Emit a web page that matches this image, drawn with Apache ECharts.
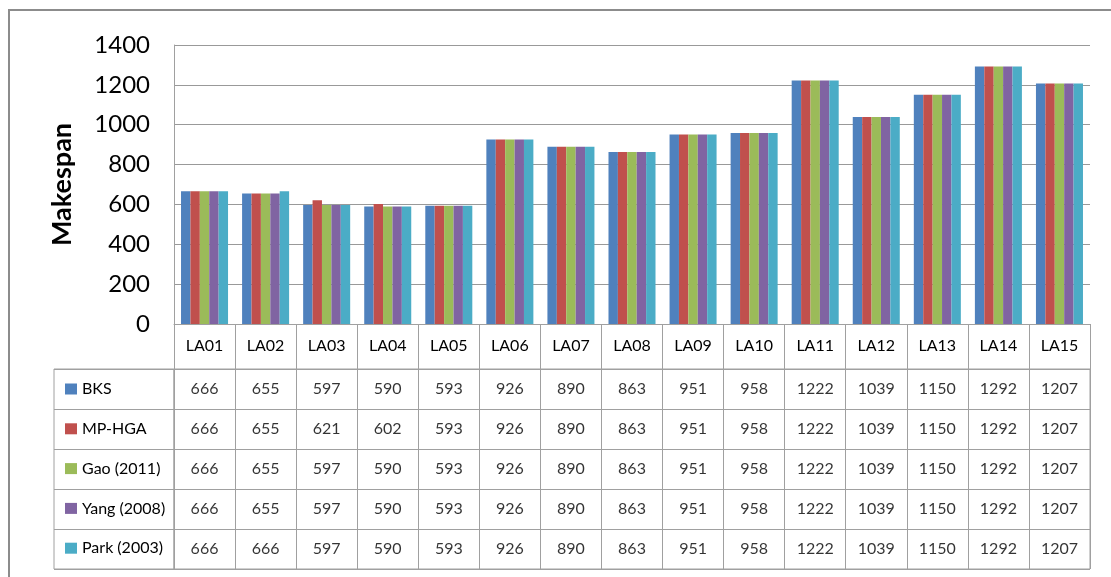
<!DOCTYPE html>
<html>
<head>
<meta charset="utf-8">
<title>Makespan comparison</title>
<script src="https://cdn.jsdelivr.net/npm/echarts@6/dist/echarts.min.js"></script>
<style>
  html, body { margin: 0; padding: 0; background: #fff; }
  #chart { width: 1111px; height: 577px; }
</style>
</head>
<body>
<div id="chart"></div>
<script>
// Benchmark instances
const instances = ['LA01','LA02','LA03','LA04','LA05','LA06','LA07','LA08','LA09','LA10','LA11','LA12','LA13','LA14','LA15'];

// Makespan per method
const bks     = [666, 655, 597, 590, 593, 926, 890, 863, 951, 958, 1222, 1039, 1150, 1292, 1207];
const mpHga   = [666, 655, 621, 602, 593, 926, 890, 863, 951, 958, 1222, 1039, 1150, 1292, 1207];
const gao2011 = [666, 655, 597, 590, 593, 926, 890, 863, 951, 958, 1222, 1039, 1150, 1292, 1207];
const yang2008 = [666, 655, 597, 590, 593, 926, 890, 863, 951, 958, 1222, 1039, 1150, 1292, 1207];
const park2003 = [666, 666, 597, 590, 593, 926, 890, 863, 951, 958, 1222, 1039, 1150, 1292, 1207];

const methodNames = ['BKS', 'MP-HGA', 'Gao (2011)', 'Yang (2008)', 'Park (2003)'];
const methodValues = [bks, mpHga, gao2011, yang2008, park2003];
const methodColors = ['#4F81BD', '#C0504D', '#9BBB59', '#8064A2', '#4BACC6'];

// Value axis ticks
const yMin = 0, yMax = 1400, yStep = 200;

const FONT = 'Lato, "Liberation Sans", sans-serif';
const LINE = '#a0a0a0';
const INK = '#000';

// Cells of the data table: [instance index, method index, value]
const tableCells = [];
methodValues.forEach((vals, r) => vals.forEach((v, c) => tableCells.push([c, r, v])));

const barSeries = methodNames.map((name, i) => ({
  name: name,
  type: 'bar',
  xAxisIndex: 0,
  yAxisIndex: 0,
  data: methodValues[i],
  barGap: '0%',
  barCategoryGap: '23%',
  itemStyle: { color: methodColors[i] }
}));

const chart = echarts.init(document.getElementById('chart'), null, { renderer: 'canvas' });

chart.setOption({
  animation: false,
  backgroundColor: '#fff',
  textStyle: { fontFamily: FONT },
  graphic: [{
    type: 'rect',
    silent: true,
    shape: { x: 9, y: 10, width: 1200, height: 700 },
    style: { fill: 'none', stroke: '#8c8c8c', lineWidth: 2 }
  }],
  legend: {
    data: methodNames,
    orient: 'vertical',
    left: 60,
    top: 376,
    itemWidth: 12,
    itemHeight: 11,
    itemGap: 23.8,
    icon: 'rect',
    selectedMode: false,
    textStyle: { fontFamily: FONT, fontSize: 16, color: INK, lineHeight: 16 }
  },
  grid: [
    // plot area
    { left: 174, right: 21, top: 45, height: 279 },
    // table values
    { left: 174, right: 21, top: 369, height: 200, show: true, borderColor: LINE, borderWidth: 1 },
    // table legend column
    { left: 54, width: 120, top: 369, height: 200, show: true, borderColor: LINE, borderWidth: 1 }
  ],
  xAxis: [
    {
      gridIndex: 0,
      type: 'category',
      data: instances,
      boundaryGap: true,
      axisLine: { show: true, lineStyle: { color: LINE, width: 1 } },
      axisTick: { show: true, interval: 0, alignWithLabel: false, length: 45, lineStyle: { color: LINE } },
      axisLabel: { interval: 0, margin: 14, fontSize: 16, color: INK, fontFamily: FONT },
      splitLine: { show: false }
    },
    {
      gridIndex: 1,
      type: 'category',
      data: instances,
      boundaryGap: true,
      axisLine: { show: false },
      axisTick: { show: false },
      axisLabel: { show: false },
      splitLine: { show: true, interval: 0, lineStyle: { color: LINE } }
    },
    {
      gridIndex: 2,
      type: 'value',
      show: false
    }
  ],
  yAxis: [
    {
      gridIndex: 0,
      type: 'value',
      min: yMin,
      max: yMax,
      interval: yStep,
      name: 'Makespan',
      nameLocation: 'middle',
      nameRotate: 90,
      nameGap: 98,
      nameTextStyle: { fontSize: 27, fontWeight: 'bold', color: INK, fontFamily: FONT },
      axisLine: { show: true, lineStyle: { color: LINE } },
      axisTick: { show: false },
      axisLabel: { fontSize: 24, color: INK, margin: 24, fontFamily: FONT, formatter: v => String(v) },
      splitLine: { show: true, lineStyle: { color: '#999', width: 1 } }
    },
    {
      gridIndex: 1,
      type: 'category',
      data: methodNames,
      inverse: true,
      boundaryGap: true,
      axisLine: { show: false },
      axisTick: { show: false },
      axisLabel: { show: false },
      splitLine: { show: true, interval: 0, lineStyle: { color: LINE } }
    },
    {
      gridIndex: 2,
      type: 'category',
      data: methodNames,
      inverse: true,
      boundaryGap: true,
      axisLine: { show: false },
      axisTick: { show: false },
      axisLabel: { show: false },
      splitLine: { show: true, interval: 0, lineStyle: { color: LINE } }
    }
  ],
  series: barSeries.concat([{
    name: 'table',
    type: 'scatter',
    xAxisIndex: 1,
    yAxisIndex: 1,
    symbolSize: 0,
    silent: true,
    data: tableCells,
    label: {
      show: true,
      position: 'inside',
      formatter: p => String(p.value[2]),
      fontSize: 16,
      color: INK,
      fontFamily: FONT
    }
  }])
});
</script>
</body>
</html>
